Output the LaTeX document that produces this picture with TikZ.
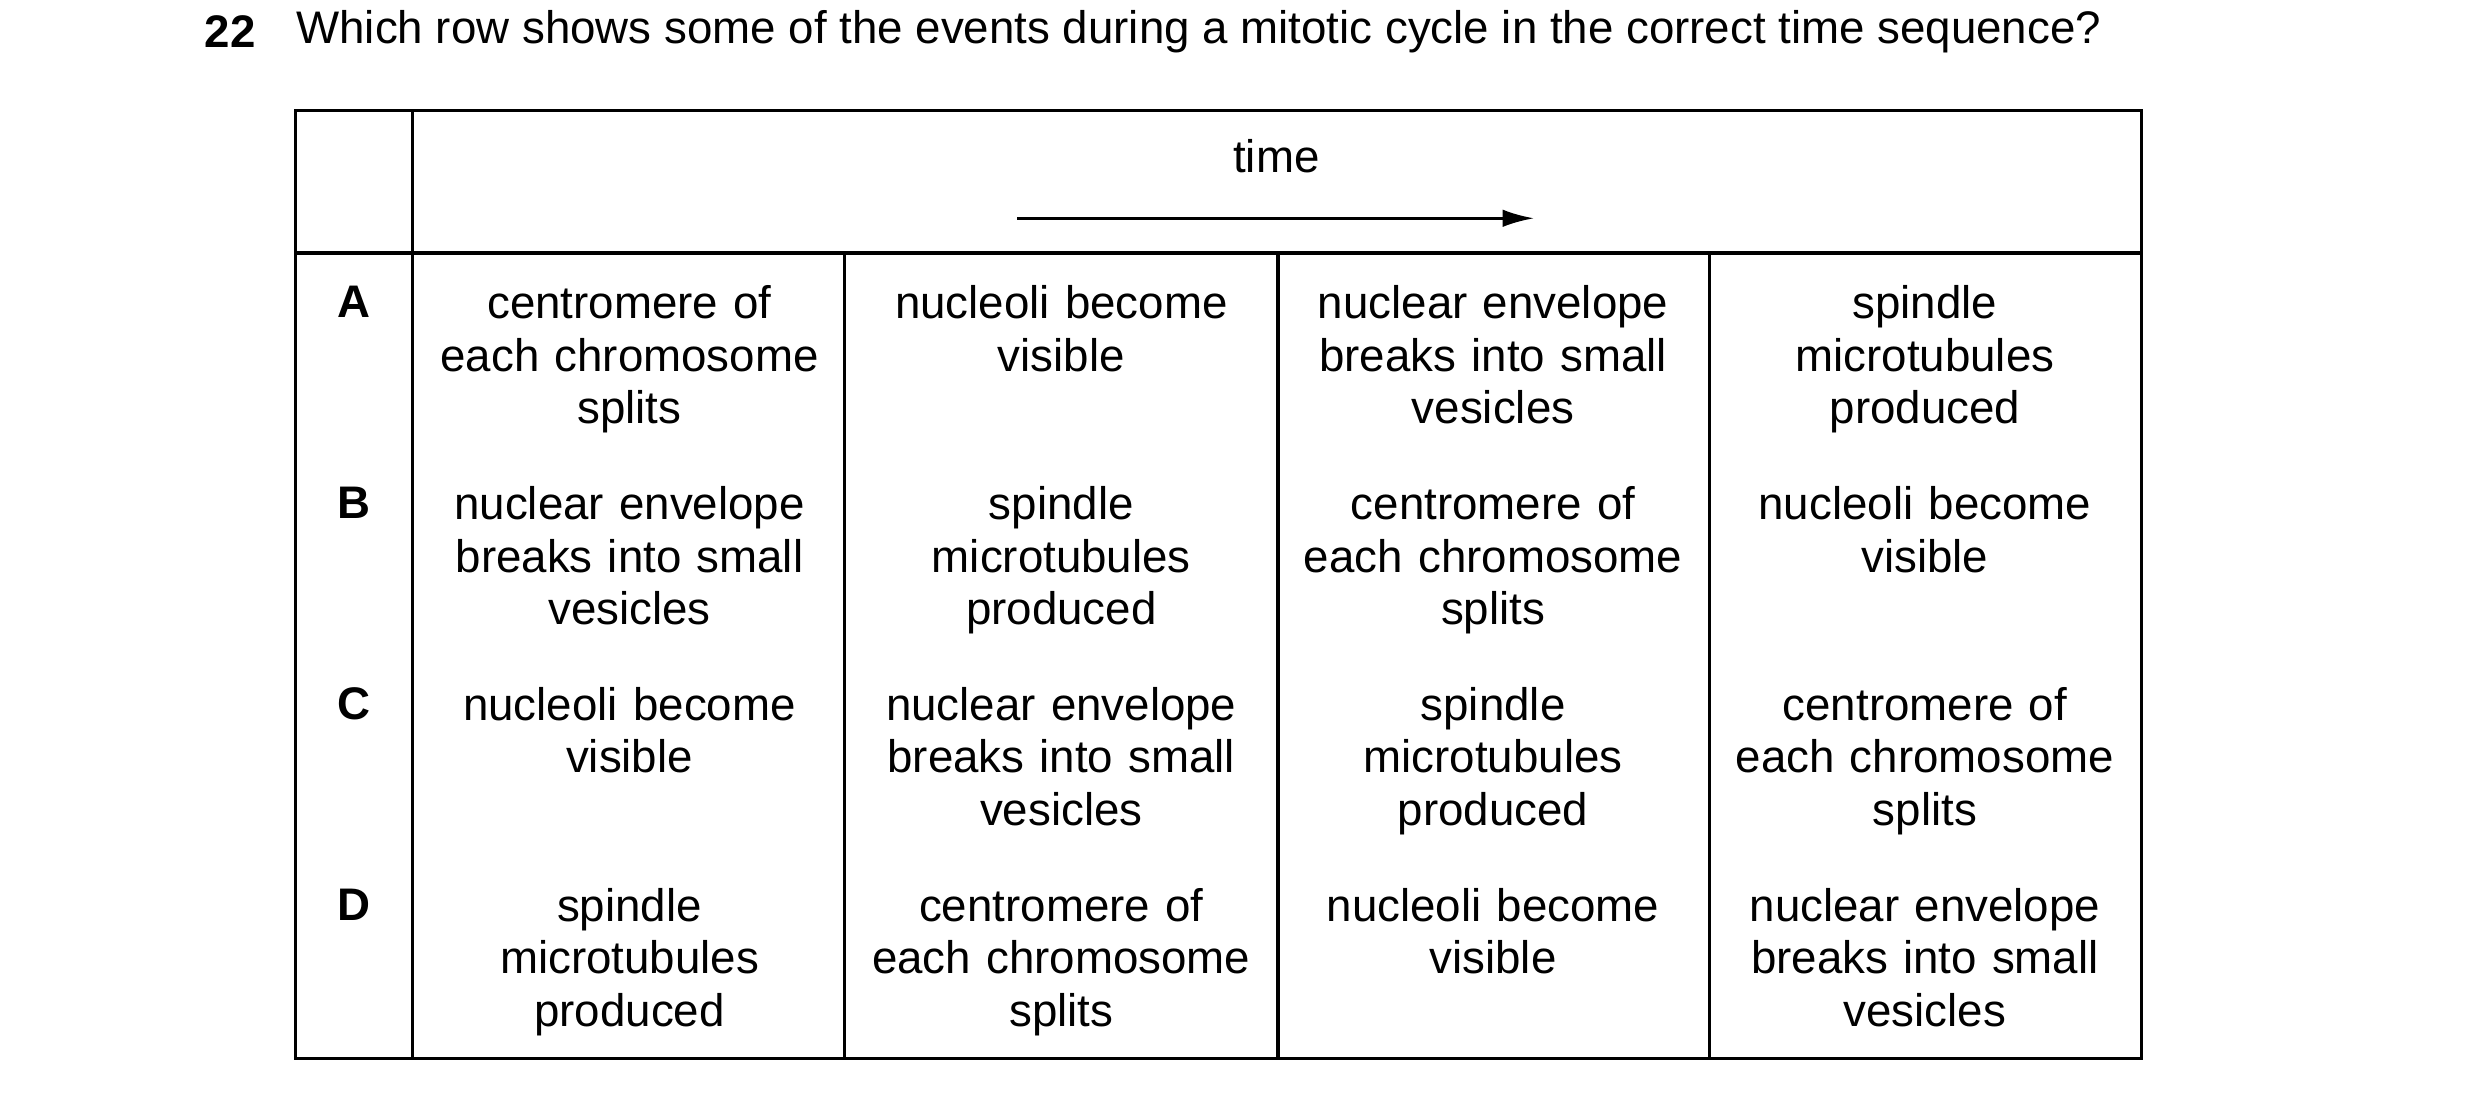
\documentclass[tikz,border=0pt]{standalone}
\usepackage{fontspec}
\setmainfont{Liberation Sans}
\usepackage{tikz}
\usetikzlibrary{arrows.meta, positioning}

\begin{document}
\begin{tikzpicture}[x=0.01582cm, y=-0.01582cm,
            cell/.style={anchor=north, inner sep=0pt, text width=4.2cm, align=center, font=\fontsize{13}{15}\selectfont},
            rowlabel/.style={inner sep=0pt, font=\fontsize{13}{15}\selectfont\bfseries},
            grid_line/.style={line width=0.9pt},
            time_arrow/.style={-{Latex[length=9pt,width=5pt]}, line width=0.9pt}
        ]
\useasboundingbox (0,0) rectangle (1568,696);

% Question
            \node[rowlabel, anchor=east] (qnum) at (162,20) {22};
            \node[inner sep=0pt, anchor=west, font=\fontsize{13}{15}\selectfont] (question) at (187,20) {Which row shows some of the events during a mitotic cycle in the correct time sequence?};

% Table frame
            \draw[grid_line] (187,70) rectangle (1354,669);
            \draw[grid_line] (187,160) -- (1354,160);
            \draw[grid_line] (261,70) -- (261,669);
            \draw[grid_line] (534,160) -- (534,669);
            \draw[grid_line] (808,160) -- (808,669);
            \draw[grid_line] (1081,160) -- (1081,669);

% Header
            \node[cell, anchor=center] (time) at (807,99) {time};
            \coordinate (tstart) at (643,138);
            \coordinate (tend) at (970,138);
            \draw[time_arrow] (tstart) -- (tend);

% Row labels
            \node[rowlabel] (rowA) at (224,191) {A};
            \node[rowlabel] (rowB) at (224,318) {B};
            \node[rowlabel] (rowC) at (224,445) {C};
            \node[rowlabel] (rowD) at (224,572) {D};

% Row A
            \node[cell] (a1) at (398,180) {centromere of\\each chromosome\\splits};
            \node[cell] (a2) at (671,180) {nucleoli become\\visible};
            \node[cell] (a3) at (944,180) {nuclear envelope\\breaks into small\\vesicles};
            \node[cell] (a4) at (1217,180) {spindle\\microtubules\\produced};

% Row B
            \node[cell] (b1) at (398,307) {nuclear envelope\\breaks into small\\vesicles};
            \node[cell] (b2) at (671,307) {spindle\\microtubules\\produced};
            \node[cell] (b3) at (944,307) {centromere of\\each chromosome\\splits};
            \node[cell] (b4) at (1217,307) {nucleoli become\\visible};

% Row C
            \node[cell] (c1) at (398,434) {nucleoli become\\visible};
            \node[cell] (c2) at (671,434) {nuclear envelope\\breaks into small\\vesicles};
            \node[cell] (c3) at (944,434) {spindle\\microtubules\\produced};
            \node[cell] (c4) at (1217,434) {centromere of\\each chromosome\\splits};

% Row D
            \node[cell] (d1) at (398,561) {spindle\\microtubules\\produced};
            \node[cell] (d2) at (671,561) {centromere of\\each chromosome\\splits};
            \node[cell] (d3) at (944,561) {nucleoli become\\visible};
            \node[cell] (d4) at (1217,561) {nuclear envelope\\breaks into small\\vesicles};

        \end{tikzpicture}
\end{document}
